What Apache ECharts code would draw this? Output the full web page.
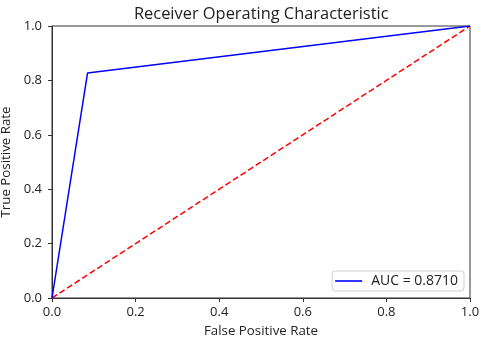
<!DOCTYPE html>
<html>
<head>
<meta charset="utf-8">
<script src="https://cdn.jsdelivr.net/npm/echarts@6/dist/echarts.min.js"></script>
<style>
  html, body { margin: 0; padding: 0; background: #fff; }
  #chart { width: 485px; height: 341px; }
</style>
</head>
<body>
<div id="chart"></div>
<script>
// ROC curve points (false positive rate, true positive rate)
const fpr = [0.0, 0.085, 1.0];
const tpr = [0.0, 0.827, 1.0];
// Chance diagonal
const chanceX = [0, 1];
const chanceY = [0, 1];
const aucValue = 0.8710;

const FONT = '"Open Sans", "Noto Sans", sans-serif';
const chart = echarts.init(document.getElementById('chart'), null, { renderer: 'canvas' });

const axisCommon = {
  type: 'value',
  min: 0,
  max: 1,
  interval: 0.2,
  axisLine: { show: true, lineStyle: { color: '#333', width: 1 } },
  axisTick: { show: true, length: 4, lineStyle: { color: '#333' } },
  splitLine: { show: false },
  nameLocation: 'middle',
  nameTextStyle: { color: '#222', fontFamily: FONT, fontSize: 13.3 }
};
const labelCommon = {
  color: '#222', fontFamily: FONT, fontSize: 13,
  formatter: v => v.toFixed(1)
};

chart.setOption({
  animation: false,
  title: {
    text: 'Receiver Operating Characteristic',
    left: 129, top: 1,
    textStyle: { color: '#222', fontFamily: FONT, fontSize: 16.4, fontWeight: 'normal' }
  },
  grid: {
    left: 52, right: 15, top: 26, bottom: 43,
    outerBoundsMode: 'none',
    containLabel: false,
    show: true, borderColor: '#333', borderWidth: 1, backgroundColor: '#fff'
  },
  legend: {
    right: 21, bottom: 50,
    orient: 'vertical',
    backgroundColor: '#fff',
    borderColor: '#d0d0d0', borderWidth: 1, borderRadius: 3,
    padding: [3, 6, 3, 3],
    itemWidth: 27, itemHeight: 14, itemGap: 4,
    textStyle: { color: '#222', fontFamily: FONT, fontSize: 14, padding: [0, 0, 0, 4] },
    data: [{ name: 'AUC = ' + aucValue.toFixed(4), icon: 'path://M0,0 L27,0 L27,1.6 L0,1.6 Z' }]
  },
  xAxis: Object.assign({}, axisCommon, {
    name: 'False Positive Rate', nameGap: 27,
    axisLabel: Object.assign({ margin: 8 }, labelCommon)
  }),
  yAxis: Object.assign({}, axisCommon, {
    name: 'True Positive Rate', nameGap: 34,
    axisLabel: Object.assign({ margin: 10 }, labelCommon)
  }),
  series: [
    {
      name: 'AUC = ' + aucValue.toFixed(4),
      type: 'line',
      data: fpr.map((x, i) => [x, tpr[i]]),
      symbol: 'none',
      lineStyle: { color: '#0000ff', width: 1.5 },
      itemStyle: { color: '#0000ff' },
      z: 3
    },
    {
      name: 'chance',
      type: 'line',
      data: chanceX.map((x, i) => [x, chanceY[i]]),
      symbol: 'none',
      lineStyle: { color: '#ff0000', width: 1.5, type: [6, 3] },
      z: 2
    }
  ]
});
</script>
</body>
</html>
